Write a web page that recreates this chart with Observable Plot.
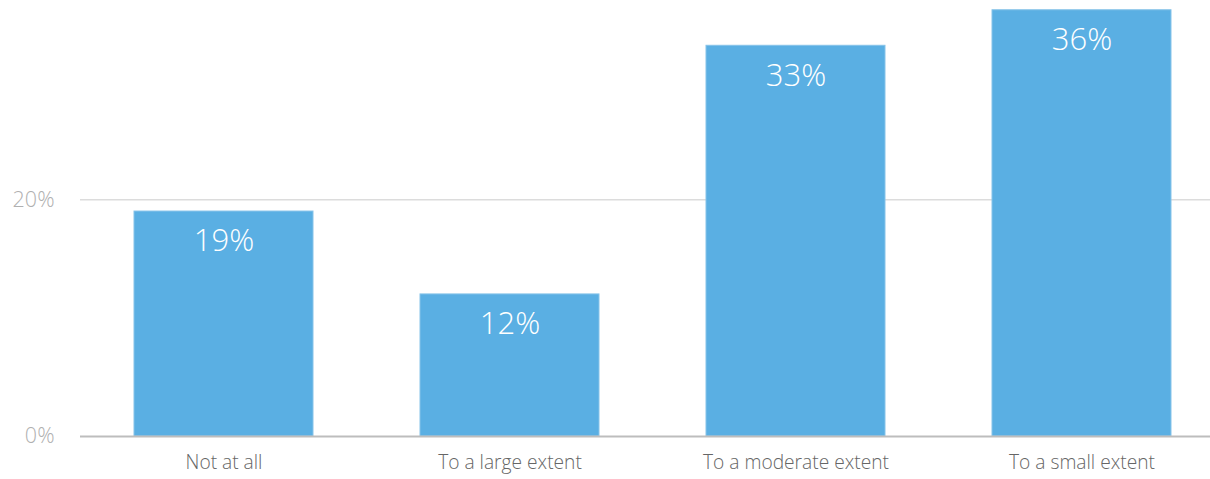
<!DOCTYPE html>
<html>
<head>
<meta charset="utf-8">
<script src="https://cdn.jsdelivr.net/npm/d3@7"></script>
<script src="https://cdn.jsdelivr.net/npm/@observablehq/plot@0.6"></script>
<style>
  html, body { margin: 0; padding: 0; background: #fff; }
  #chart { width: 1210px; height: 479px; overflow: hidden; }
</style>
</head>
<body>
<div id="chart"></div>
<script>
const categories = ["Not at all", "To a large extent", "To a moderate extent", "To a small extent"];
const values = [19, 12, 33, 36];
const yTicks = [0, 20];

const data = categories.map((c, i) => ({category: c, value: values[i]}));

const chart = Plot.plot({
  width: 1210,
  height: 479,
  marginLeft: 80,
  marginRight: 0,
  marginTop: 0,
  marginBottom: 43,
  style: {fontFamily: "'Open Sans', sans-serif", background: "#fff"},
  x: {domain: categories, range: [80, 1224], paddingInner: 0.375, paddingOuter: 0.185},
  y: {domain: [0, 40], range: [436, -37.6]},
  marks: [
    Plot.ruleY([20], {stroke: "#dcdcdc", strokeWidth: 1.5}),
    Plot.barY(data, {x: "category", y: "value", fill: "#5aafe3", stroke: "#86c3e9", strokeWidth: 1}),
    Plot.ruleY([0], {stroke: "#bdbdbd", strokeWidth: 2}),
    Plot.text(data, {x: "category", y: "value", text: d => d.value + "%", dy: 30, fill: "#ffffff", fontSize: 31, fontWeight: 300}),
    Plot.axisY(yTicks, {tickSize: 0, tickPadding: 26, tickFormat: d => d + "%", fontSize: 21.5, fill: "#b0b0b0", fontWeight: 300, label: null}),
    Plot.axisX({tickSize: 0, tickPadding: 19, fontSize: 19.2, fill: "#666666", fontWeight: 300, label: null})
  ]
});
document.getElementById("chart").appendChild(chart);
</script>
</body>
</html>
